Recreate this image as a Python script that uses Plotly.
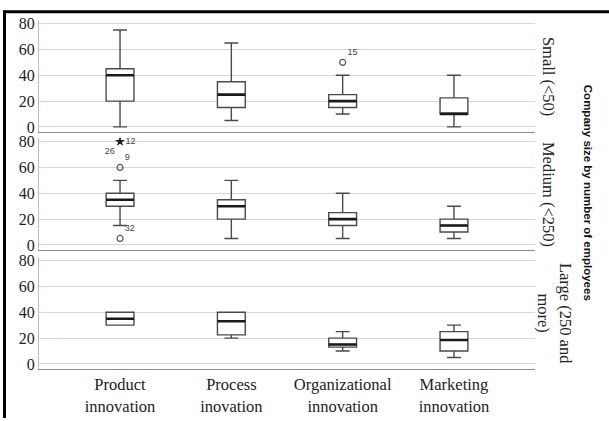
import plotly.graph_objects as go

# Innovation types (x categories)
categories = ["Product<br>innovation", "Process<br>inovation",
              "Organizational<br>innovation", "Marketing<br>innovation"]

# Company-size panels, top to bottom
panels = ["Small (<50)", "Medium (<250)", "Large (250 and<br>more)"]

# Box statistics per panel: lower whisker, Q1, median, Q3, upper whisker
small_low = [0, 5, 10, 0]
small_q1 = [20, 15, 15, 10]
small_med = [40, 25, 20, 10]
small_q3 = [45, 35, 25, 22.5]
small_high = [75, 65, 40, 40]

medium_low = [15, 5, 5, 5]
medium_q1 = [30, 20, 15, 10]
medium_med = [35, 30, 20, 15]
medium_q3 = [40, 35, 25, 20]
medium_high = [50, 50, 40, 30]

large_low = [30, 20, 10, 5]
large_q1 = [30, 22.5, 13, 10]
large_med = [35, 33, 15, 18.5]
large_q3 = [40, 40, 20, 25]
large_high = [40, 40, 25, 30]

# Outliers (circles) and extremes (stars): panel, category index, value, case label
outlier_panel = [0, 1, 1]
outlier_cat = [2, 0, 0]
outlier_val = [50, 60, 5]
outlier_lab = ["15", "9", "32"]

extreme_panel = [1, 1]
extreme_cat = [0, 0]
extreme_val = [80, 80]
extreme_lab = ["12", "26"]
extreme_pos = ["middle right", "bottom left"]

stats = [
    (small_low, small_q1, small_med, small_q3, small_high),
    (medium_low, medium_q1, medium_med, medium_q3, medium_high),
    (large_low, large_q1, large_med, large_q3, large_high),
]

W, H = 609, 421
BOX_W = 0.25
SERIF = "Liberation Serif, Times New Roman, serif"
SANS = "Liberation Sans, Arial, sans-serif"

# panel pixel extents (top, bottom)
panel_px = [(16, 130.25), (136, 250.25), (257, 371.25)]
x_dom = [39 / W, 535 / W]

fig = go.Figure()
xs = list(range(len(categories)))

for p, (lo, q1, med, q3, hi) in enumerate(stats):
    sfx = "" if p == 0 else str(p + 1)
    fig.add_trace(go.Box(
        x=xs, q1=q1, median=med, q3=q3, lowerfence=lo, upperfence=hi,
        width=BOX_W, whiskerwidth=0.5, boxpoints=False,
        fillcolor="white", line=dict(color="#4a4a4a", width=1.4),
        xaxis="x" + sfx, yaxis="y" + sfx, showlegend=False, hoverinfo="skip",
    ))
    # heavier median bars
    mx, my = [], []
    for i, m in enumerate(med):
        mx += [i - BOX_W / 2, i + BOX_W / 2, None]
        my += [m, m, None]
    fig.add_trace(go.Scatter(
        x=mx, y=my, mode="lines", line=dict(color="#1a1a1a", width=2.6),
        xaxis="x" + sfx, yaxis="y" + sfx, showlegend=False, hoverinfo="skip",
    ))

    # outliers
    ox = [c for pp, c in zip(outlier_panel, outlier_cat) if pp == p]
    oy = [v for pp, v in zip(outlier_panel, outlier_val) if pp == p]
    ol = [t for pp, t in zip(outlier_panel, outlier_lab) if pp == p]
    if ox:
        fig.add_trace(go.Scatter(
            x=ox, y=oy, text=ol, mode="markers+text", textposition="top right",
            marker=dict(symbol="circle-open", size=6, color="#555555", line=dict(width=1.2)),
            textfont=dict(family=SANS, size=9, color="#444444"),
            xaxis="x" + sfx, yaxis="y" + sfx, showlegend=False, hoverinfo="skip",
        ))
    ex = [c for pp, c in zip(extreme_panel, extreme_cat) if pp == p]
    ey = [v for pp, v in zip(extreme_panel, extreme_val) if pp == p]
    el = [t for pp, t in zip(extreme_panel, extreme_lab) if pp == p]
    ep = [t for pp, t in zip(extreme_panel, extreme_pos) if pp == p]
    if ex:
        fig.add_trace(go.Scatter(
            x=ex, y=ey, text=el, mode="markers+text", textposition=ep,
            marker=dict(symbol="star", size=7, color="#222222"),
            textfont=dict(family=SANS, size=9, color="#444444"),
            xaxis="x" + sfx, yaxis="y" + sfx, showlegend=False, hoverinfo="skip",
        ))

layout = dict(
    width=W, height=H, margin=dict(l=0, r=0, t=0, b=0),
    paper_bgcolor="white", plot_bgcolor="white", showlegend=False,
)

for p, (top, bot) in enumerate(panel_px):
    sfx = "" if p == 0 else str(p + 1)
    key = "" if p == 0 else str(p + 1)
    layout["yaxis" + key] = dict(
        domain=[1 - bot / H, 1 - top / H], range=[-4, 83],
        anchor="x" + sfx, tickvals=[0, 20, 40, 60, 80],
        showgrid=True, gridcolor="#d6d6d6", gridwidth=1.2, zeroline=False,
        showline=True, linecolor="#bdbdbd", linewidth=1,
        tickfont=dict(family=SERIF, size=16, color="#222222"), ticks="",
    )
    layout["xaxis" + key] = dict(
        domain=x_dom, range=[-0.728, 3.728], anchor="y" + sfx,
        tickvals=xs, ticktext=categories, showticklabels=(p == 2),
        showgrid=False, zeroline=False, showline=True,
        linecolor="#8a8a8a", linewidth=1.4, ticks="",
        tickfont=dict(family=SERIF, size=16.5, color="#222222"),
    )

fig.update_layout(**layout)

# panel labels on the right
for p, (top, bot) in enumerate(panel_px):
    fig.add_annotation(
        x=(555 if p == 2 else 548) / W, y=1 - (top + bot) / 2 / H,
        xref="paper", yref="paper", text=panels[p], textangle=90,
        xanchor="center", yanchor="middle",
        showarrow=False, align="center",
        font=dict(family=SERIF, size=16.5, color="#222222"),
    )

fig.add_annotation(
    x=588 / W, y=1 - 192 / H, xref="paper", yref="paper",
    text="<b>Company size by number of employees</b>", textangle=90,
    xanchor="center", yanchor="middle",
    showarrow=False, font=dict(family=SANS, size=11.5, color="#111111"),
)

# outer frame lines (top and left)
fig.add_shape(type="line", xref="paper", yref="paper",
              x0=3 / W, x1=1, y0=1 - 8 / H, y1=1 - 8 / H,
              line=dict(color="black", width=3))
fig.add_shape(type="line", xref="paper", yref="paper",
              x0=4.5 / W, x1=4.5 / W, y0=0, y1=1 - 6.5 / H,
              line=dict(color="black", width=3))

fig.write_html("out.html")
